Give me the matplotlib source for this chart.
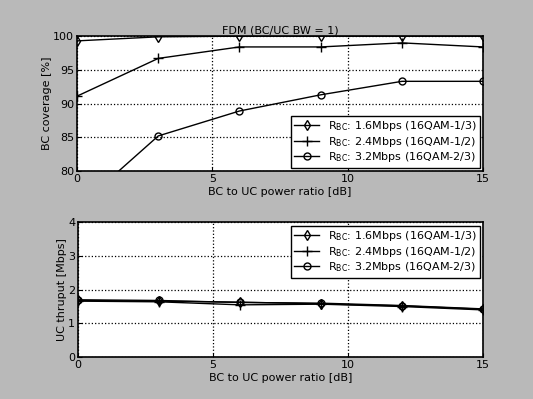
import matplotlib.pyplot as plt
import numpy as np

# BC to UC power ratio [dB]
ratio_db = [0, 3, 6, 9, 12, 15]

labels = ['R$_{\\mathrm{BC}}$: 1.6Mbps (16QAM-1/3)',
          'R$_{\\mathrm{BC}}$: 2.4Mbps (16QAM-1/2)',
          'R$_{\\mathrm{BC}}$: 3.2Mbps (16QAM-2/3)']

# BC coverage [%]
cov_16 = [99.3, 99.9, 100.0, 100.0, 100.0, 100.0]
cov_24 = [91.1, 96.7, 98.4, 98.4, 99.0, 98.4]
cov_32 = [74.5, 85.2, 88.9, 91.3, 93.3, 93.3]

# UC thruput [Mbps]
thr_16 = [1.68, 1.66, 1.63, 1.58, 1.52, 1.42]
thr_24 = [1.66, 1.64, 1.55, 1.57, 1.50, 1.40]
thr_32 = [1.70, 1.68, 1.62, 1.60, 1.53, 1.43]

styles = [dict(marker='d', ms=5, mfc='none'),
          dict(marker='+', ms=7),
          dict(marker='o', ms=5, mfc='none')]

plt.rcParams['font.size'] = 8
fig = plt.figure(figsize=(5.33, 3.99), dpi=100, facecolor='#b9b9b9')

ax1 = fig.add_axes([0.1445, 0.5714, 0.762, 0.338])
ax2 = fig.add_axes([0.1463, 0.105, 0.760, 0.338])


def setup(ax, ylim, yticks, ylabel):
    ax.set_xlim(0, 15)
    ax.set_ylim(*ylim)
    ax.set_xticks([0, 5, 10, 15])
    ax.set_yticks(yticks)
    ax.grid(True, color='black', linestyle=':', linewidth=0.9)
    ax.tick_params(direction='in', length=3, pad=2)
    ax.set_xlabel('BC to UC power ratio [dB]', labelpad=2)
    ax.set_ylabel(ylabel, labelpad=1)
    for s in ax.spines.values():
        s.set_linewidth(1.2)


for ys, st, lab in zip([cov_16, cov_24, cov_32], styles, labels):
    ax1.plot(ratio_db, ys, color='black', lw=1.0, mec='black', label=lab, **st)
setup(ax1, (80, 100), [80, 85, 90, 95, 100], 'BC coverage [%]')
ax1.set_title('FDM (BC/UC BW = 1)', fontsize=8, pad=2)
ax1.legend(loc='lower right', fancybox=False, edgecolor='black', framealpha=1,
           borderaxespad=0.3, handlelength=2.2, labelspacing=0.15, borderpad=0.3)

for ys, st, lab in zip([thr_16, thr_24, thr_32], styles, labels):
    ax2.plot(ratio_db, ys, color='black', lw=1.0, mec='black', label=lab, **st)
setup(ax2, (0, 4), [0, 1, 2, 3, 4], 'UC thruput [Mbps]')
ax2.legend(loc='upper right', fancybox=False, edgecolor='black', framealpha=1,
           borderaxespad=0.3, handlelength=2.2, labelspacing=0.15, borderpad=0.3)

fig.savefig('out.png', dpi=100, facecolor=fig.get_facecolor())
